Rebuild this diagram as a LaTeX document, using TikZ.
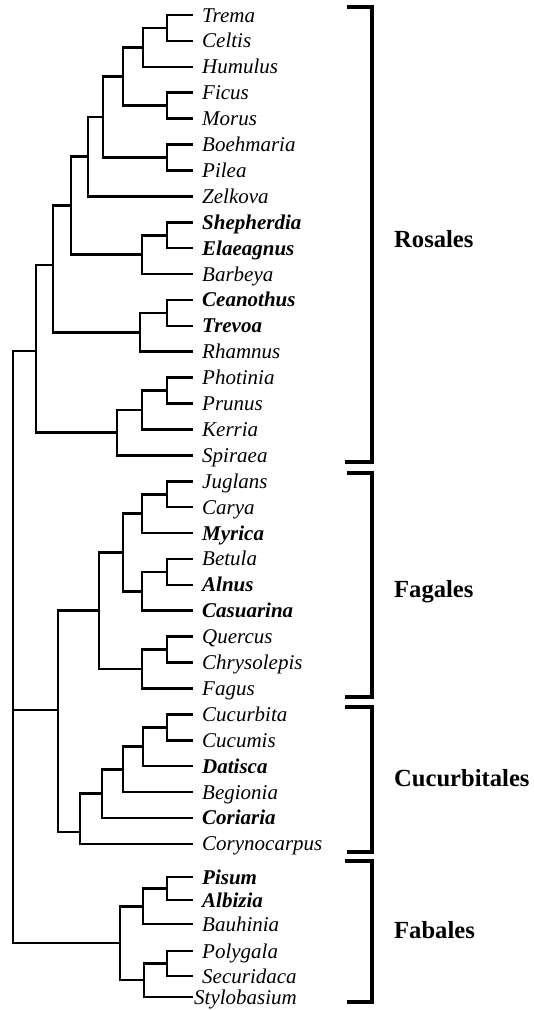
\documentclass[tikz,border=0pt]{standalone}
\usepackage{fontspec}
\setmainfont{Liberation Serif}
\usepackage{tikz}

\tikzset{
  branch/.style={line width=2.6pt},
  clade/.style={line width=3.8pt},
  taxon/.style={anchor=west, inner xsep=9pt, inner ysep=0pt, text height=15pt, text depth=1pt,
    font=\fontsize{21}{21}\selectfont\itshape},
  order/.style={anchor=west, inner sep=0pt, text height=17pt, text depth=1pt,
    font=\fontsize{24.6}{25}\selectfont\bfseries}
}

\begin{document}
\begin{tikzpicture}[x=1pt,y=-1pt]
    \useasboundingbox (0,0) rectangle (534,1010);

    % Taxa, top to bottom
    \foreach \nm/\txt [count=\i from 0] in {trema/Trema, celtis/Celtis, humulus/Humulus,
        ficus/Ficus, morus/Morus, boehmaria/Boehmaria, pilea/Pilea, zelkova/Zelkova,
        shepherdia/\textbf{Shepherdia}, elaeagnus/\textbf{Elaeagnus}, barbeya/Barbeya,
        ceanothus/\textbf{Ceanothus}, trevoa/\textbf{Trevoa}, rhamnus/Rhamnus,
        photinia/Photinia, prunus/Prunus, kerria/Kerria, spiraea/Spiraea,
        juglans/Juglans, carya/Carya, myrica/\textbf{Myrica}, betula/Betula,
        alnus/\textbf{Alnus}, casuarina/\textbf{Casuarina}, quercus/Quercus,
        chrysolepis/Chrysolepis, fagus/Fagus, cucurbita/Cucurbita, cucumis/Cucumis,
        datisca/\textbf{Datisca}, begionia/Begionia, coriaria/\textbf{Coriaria},
        corynocarpus/Corynocarpus} {
        \node[taxon] (\nm) at (193,{15+25.9*\i}) {\txt};
    }
    \foreach \nm/\txt/\y in {pisum/\textbf{Pisum}/877, albizia/\textbf{Albizia}/900,
        bauhinia/Bauhinia/924, polygala/Polygala/951, securidaca/Securidaca/976} {
        \node[taxon] (\nm) at (193,\y) {\txt};
    }
    \node[taxon, inner xsep=1pt] (stylobasium) at (193,997) {Stylobasium};

    % Rosales
    \coordinate (tc) at (167,28);
    \coordinate (tch) at (143,47.5);
    \coordinate (fm) at (167,105.7);
    \coordinate (urt) at (123,76.6);
    \coordinate (bp) at (167,157.5);
    \coordinate (mor) at (103,117);
    \coordinate (zel) at (88,156.7);
    \coordinate (se) at (167,235.2);
    \coordinate (elae) at (142,254.6);
    \coordinate (rosA) at (71,205.6);
    \coordinate (ct) at (167,312.9);
    \coordinate (rham) at (140,332.3);
    \coordinate (rosB) at (53,265);
    \coordinate (pp) at (167,390.6);
    \coordinate (ker) at (142,410);
    \coordinate (spi) at (117,432.6);
    \coordinate (ros) at (36,350.8);
    \draw[branch] (tc) |- (trema.west) (tc) |- (celtis.west);
    \draw[branch] (tch) |- (tc) (tch) |- (humulus.west);
    \draw[branch] (fm) |- (ficus.west) (fm) |- (morus.west);
    \draw[branch] (urt) |- (tch) (urt) |- (fm);
    \draw[branch] (bp) |- (boehmaria.west) (bp) |- (pilea.west);
    \draw[branch] (mor) |- (urt) (mor) |- (bp);
    \draw[branch] (zel) |- (mor) (zel) |- (zelkova.west);
    \draw[branch] (se) |- (shepherdia.west) (se) |- (elaeagnus.west);
    \draw[branch] (elae) |- (se) (elae) |- (barbeya.west);
    \draw[branch] (rosA) |- (zel) (rosA) |- (elae);
    \draw[branch] (ct) |- (ceanothus.west) (ct) |- (trevoa.west);
    \draw[branch] (rham) |- (ct) (rham) |- (rhamnus.west);
    \draw[branch] (rosB) |- (rosA) (rosB) |- (rham);
    \draw[branch] (pp) |- (photinia.west) (pp) |- (prunus.west);
    \draw[branch] (ker) |- (pp) (ker) |- (kerria.west);
    \draw[branch] (spi) |- (ker) (spi) |- (spiraea.west);
    \draw[branch] (ros) |- (rosB) (ros) |- (spi);

    % Fagales
    \coordinate (jc) at (167,494.2);
    \coordinate (jug) at (142,513.6);
    \coordinate (ba) at (167,571.9);
    \coordinate (bet) at (142,591.3);
    \coordinate (jb) at (123,552.5);
    \coordinate (qc) at (167,649.6);
    \coordinate (fag) at (142,669);
    \coordinate (fagc) at (99,610.7);
    \draw[branch] (jc) |- (juglans.west) (jc) |- (carya.west);
    \draw[branch] (jug) |- (jc) (jug) |- (myrica.west);
    \draw[branch] (ba) |- (betula.west) (ba) |- (alnus.west);
    \draw[branch] (bet) |- (ba) (bet) |- (casuarina.west);
    \draw[branch] (jb) |- (jug) (jb) |- (bet);
    \draw[branch] (qc) |- (quercus.west) (qc) |- (chrysolepis.west);
    \draw[branch] (fag) |- (qc) (fag) |- (fagus.west);
    \draw[branch] (fagc) |- (jb) (fagc) |- (fag);

    % Cucurbitales
    \coordinate (cc) at (167,727.3);
    \coordinate (dat) at (143,746.7);
    \coordinate (beg) at (123,769.3);
    \coordinate (cor) at (102,793.6);
    \coordinate (cuc) at (80,832);
    \coordinate (fc) at (58,710);
    \draw[branch] (cc) |- (cucurbita.west) (cc) |- (cucumis.west);
    \draw[branch] (dat) |- (cc) (dat) |- (datisca.west);
    \draw[branch] (beg) |- (dat) (beg) |- (begionia.west);
    \draw[branch] (cor) |- (beg) (cor) |- (coriaria.west);
    \draw[branch] (cuc) |- (cor) (cuc) |- (corynocarpus.west);
    \draw[branch] (fc) |- (fagc) (fc) |- (cuc);

    % Fabales
    \coordinate (pa) at (167,888.5);
    \coordinate (bau) at (143,906.3);
    \coordinate (ps) at (167,963.5);
    \coordinate (sty) at (144,980);
    \coordinate (fab) at (120,943);
    \draw[branch] (pa) |- (pisum.west) (pa) |- (albizia.west);
    \draw[branch] (bau) |- (pa) (bau) |- (bauhinia.west);
    \draw[branch] (ps) |- (polygala.west) (ps) |- (securidaca.west);
    \draw[branch] (sty) |- (ps) (sty) |- (stylobasium.west);
    \draw[branch] (fab) |- (bau) (fab) |- (sty);

    % Root
    \coordinate (root) at (13,647);
    \draw[branch] (root) |- (ros) (root) |- (fc) (root) |- (fab);

    % Orders
    \draw[clade] (347,7) -| (372,462) -- (345,462);
    \draw[clade] (347,473) -| (372,697) -- (345,697);
    \draw[clade] (345,707) -| (372,852) -- (347,852);
    \draw[clade] (345,861) -| (372,1002) -- (347,1002);
    \node[order] (rosales) at (394,239) {Rosales};
    \node[order] (fagales) at (394,589) {Fagales};
    \node[order] (cucurbitales) at (394,778) {Cucurbitales};
    \node[order] (fabales) at (394,930) {Fabales};
\end{tikzpicture}
\end{document}
